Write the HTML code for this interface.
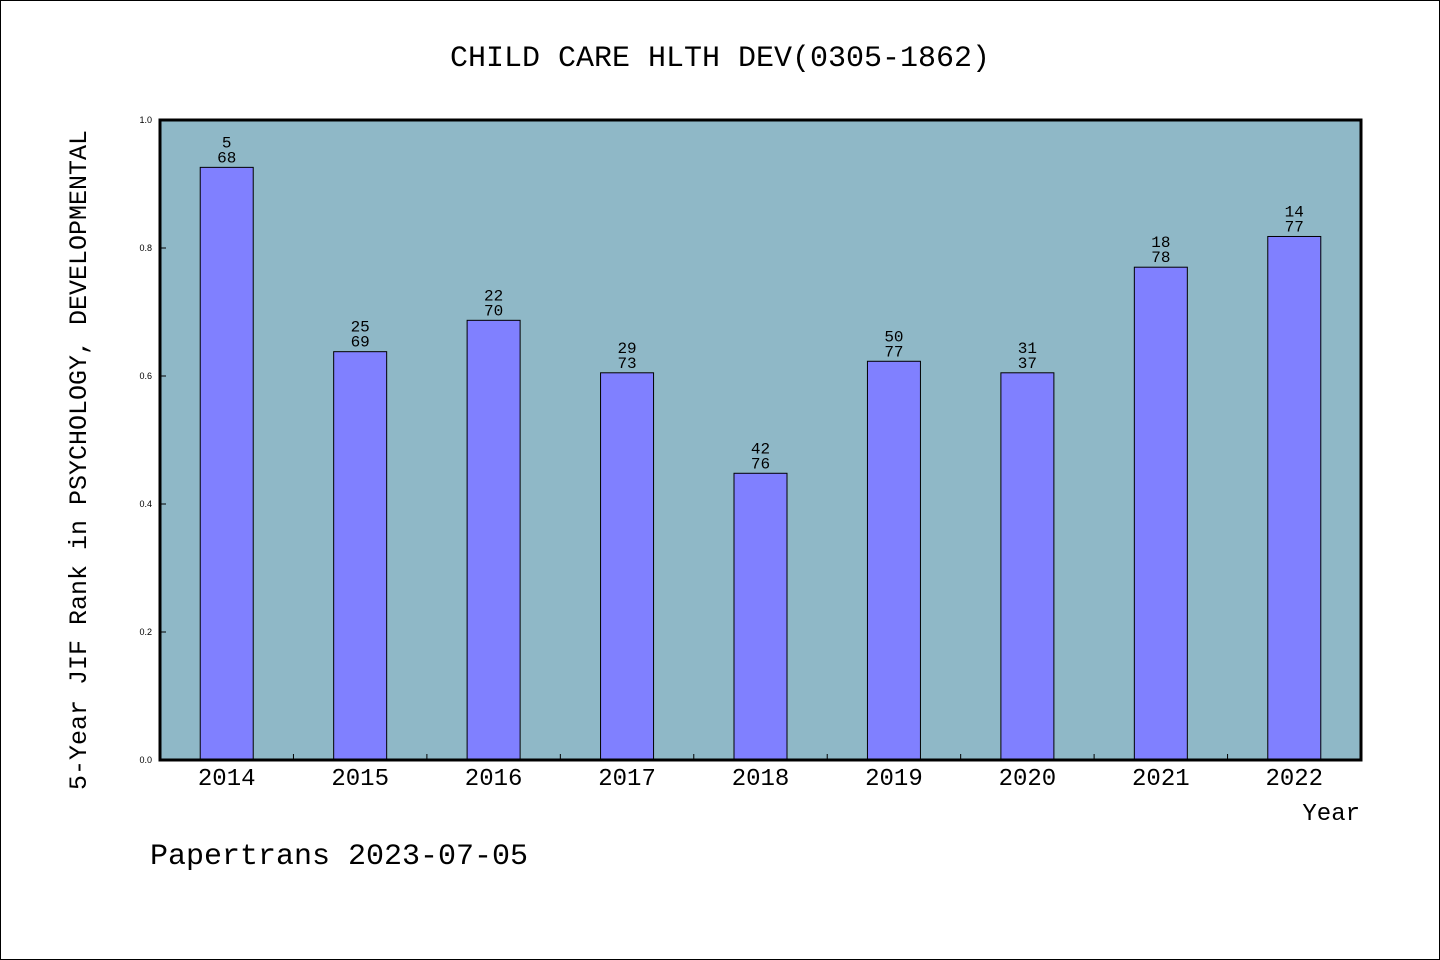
<!DOCTYPE html>
<html><head><meta charset="utf-8"><style>
html,body{margin:0;padding:0;background:#fff;}
svg{display:block;font-family:"Liberation Mono","WenQuanYi Zen Hei",monospace;}
</style></head><body>
<svg width="1440" height="960" viewBox="0 0 1440 960">
<rect x="0.5" y="0.5" width="1439" height="959" fill="#fff" stroke="#000"/>
<text x="720" y="66" text-anchor="middle" font-size="30">CHILD CARE HLTH DEV(0305-1862)</text>
<rect x="160" y="120" width="1201" height="640" fill="#8fb8c7"/>
<g id="bars"></g>
<g id="axes"></g>
<rect x="160" y="120" width="1201" height="640" fill="none" stroke="#000" stroke-width="3"/>
<text transform="translate(86,460) rotate(-90)" text-anchor="middle" font-size="25">5-Year JIF Rank in PSYCHOLOGY, DEVELOPMENTAL</text>
<text x="1360" y="820" text-anchor="end" font-size="24">Year</text>
<text x="150" y="864" font-size="30">Papertrans 2023-07-05</text>
</svg>
<script>
const categories = ["2014","2015","2016","2017","2018","2019","2020","2021","2022"];
const values = [0.926,0.638,0.687,0.605,0.448,0.623,0.605,0.770,0.818];
const ranks = [5,25,22,29,42,50,31,18,14];
const totals = [68,69,70,73,76,77,37,78,77];
const yTicks = [0,0.2,0.4,0.6,0.8,1.0];
const ns="http://www.w3.org/2000/svg";
const X0=160,X1=1361,Y0=760,Y1=120;
const step=(X1-X0)/categories.length;
const xC=i=>X0+step*(i+0.5);
const yS=v=>Y0-(v-0)/(1-0)*(Y0-Y1);
function mk(t,a,p){const e=document.createElementNS(ns,t);for(const k in a)e.setAttribute(k,a[k]);p.appendChild(e);return e;}
const bars=document.getElementById('bars'),axes=document.getElementById('axes');
categories.forEach((c,i)=>{
  const v=values[i];
  const bw=53,x=xC(i)-bw/2,y=yS(v);
  const r=mk('rect',{x:x,y:y,width:bw,height:Y0-y,fill:'#8080ff',stroke:'#000','stroke-width':1},bars);
  
  
  const t1=mk('text',{x:xC(i),y:y-20,'text-anchor':'middle','font-size':16},bars);t1.textContent=ranks[i];
  
  
  const t2=mk('text',{x:xC(i),y:y-5,'text-anchor':'middle','font-size':16},bars);t2.textContent=totals[i];
  
  
  const xl=mk('text',{x:xC(i),y:785,'text-anchor':'middle','font-size':24},axes);xl.textContent=c;
  
  
  if(i>0){const tk=mk('line',{x1:X0+step*i,x2:X0+step*i,y1:Y0,y2:Y0-6,stroke:'#000'},axes);
  
  }
});
yTicks.forEach(v=>{
  const y=yS(v);
  const tk=mk('line',{x1:X0,x2:X0+6,y1:y,y2:y,stroke:'#000'},axes);
  
  
  const t=mk('text',{x:152,y:y+3,'text-anchor':'end','font-size':9,'font-family':'Liberation Sans, sans-serif'},axes);t.textContent=v.toFixed(1);
  
  
});
</script>
</body></html>
